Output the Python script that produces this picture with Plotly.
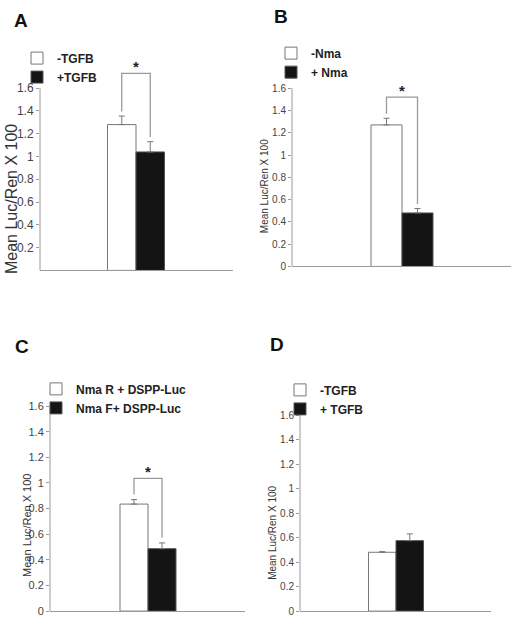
import plotly.graph_objects as go

W, H = 518, 628

# ---------------- data ----------------
panel_letters = ["A", "B", "C", "D"]
legend_white = ["-TGFB", "-Nma", "Nma R + DSPP-Luc", "-TGFB"]
legend_black = ["+TGFB", "+ Nma", "Nma F+ DSPP-Luc", "+ TGFB"]
mean_white = [1.28, 1.27, 0.835, 0.48]
mean_black = [1.04, 0.48, 0.487, 0.575]
err_white = [0.075, 0.06, 0.035, 0.005]
err_black = [0.09, 0.04, 0.045, 0.055]
sig_bracket_top = [1.73, 1.52, 1.035, None]
ytick_vals = [0, 0.2, 0.4, 0.6, 0.8, 1.0, 1.2, 1.4, 1.6]
ytick_text = ["0", "0.2", "0.4", "0.6", "0.8", "1", "1.2", "1.4", "1.6"]
show_zero_label = [False, True, True, True]
y_title = "Mean Luc/Ren X 100"
y_max_tick = 1.6

# ---------------- layout geometry (pixels) ----------------
geom = [
    dict(xl=40, xr=233, xc=136, bw=28.5, y0=273, s=115.0, ytop=1.85,
         title_xy=(11, 201), title_size=16, tick_size=12,
         letter_xy=(21, 21), leg_xy=(17, 44), leg_size=12),
    dict(xl=292, xr=511, xc=402, bw=31, y0=269, s=112.5, ytop=1.7,
         title_xy=(264, 188), title_size=10, tick_size=10,
         letter_xy=(281, 17), leg_xy=(271, 39), leg_size=12),
    dict(xl=50, xr=245, xc=148, bw=28, y0=617, s=129.4, ytop=1.7,
         title_xy=(27, 531), title_size=11, tick_size=11,
         letter_xy=(22, 350), leg_xy=(36, 378), leg_size=12),
    dict(xl=300, xr=491, xc=396, bw=27.5, y0=617, s=123.75, ytop=1.7,
         title_xy=(273, 538), title_size=10, tick_size=10,
         letter_xy=(277, 348), leg_xy=(280, 379), leg_size=12),
]

FONT = "Liberation Sans, Arial, sans-serif"
GREY = "#9a9a9a"
GAP = 0.04

fig = go.Figure()
layout_upd = {}
annotations = []
shapes = []

for i, g in enumerate(geom):
    n = "" if i == 0 else str(i + 1)
    xa, ya = "x" + n, "y" + n
    leg = "legend" + n

    fig.add_trace(go.Bar(
        x=[0], y=[mean_white[i]], width=[1], offset=-1,
        name=legend_white[i], legend=leg, xaxis=xa, yaxis=ya,
        marker=dict(color="white", line=dict(color="#777777", width=1)),
        error_y=dict(type="data", symmetric=False, array=[err_white[i]],
                     arrayminus=[0], color="#777777", thickness=1, width=3),
        hoverinfo="skip"))
    fig.add_trace(go.Bar(
        x=[0], y=[mean_black[i]], width=[1], offset=0,
        name=legend_black[i], legend=leg, xaxis=xa, yaxis=ya,
        marker=dict(color="#141414", line=dict(color="#555555", width=1)),
        error_y=dict(type="data", symmetric=False, array=[err_black[i]],
                     arrayminus=[0], color="#777777", thickness=1, width=3),
        hoverinfo="skip"))

    top = sig_bracket_top[i]
    if top is not None:
        fig.add_trace(go.Scatter(
            x=[-0.5, -0.5, 0.5, 0.5],
            y=[mean_white[i] + err_white[i] + GAP, top, top,
               mean_black[i] + err_black[i] + GAP],
            mode="lines", line=dict(color=GREY, width=1.3),
            showlegend=False, hoverinfo="skip", xaxis=xa, yaxis=ya))
        annotations.append(dict(
            x=0, y=top, xref=xa, yref=ya, text="<b>*</b>", showarrow=False,
            yanchor="middle", yshift=7, font=dict(family=FONT, size=15, color="#222")))

    xr_lo = (g["xl"] - g["xc"]) / g["bw"]
    xr_hi = (g["xr"] - g["xc"]) / g["bw"]
    y_top_px = g["y0"] - g["ytop"] * g["s"]
    layout_upd["xaxis" + n] = dict(
        domain=[g["xl"] / W, g["xr"] / W], range=[xr_lo, xr_hi],
        showline=True, linecolor=GREY, linewidth=1, showgrid=False,
        zeroline=False, showticklabels=False, ticks="", anchor=ya,
        fixedrange=True)
    tv = ytick_vals if show_zero_label[i] else ytick_vals[1:]
    tt = ytick_text if show_zero_label[i] else ytick_text[1:]
    layout_upd["yaxis" + n] = dict(
        domain=[1 - g["y0"] / H, 1 - y_top_px / H], range=[0, g["ytop"]],
        showline=False, showgrid=False, zeroline=False,
        tickvals=tv, ticktext=tt, ticks="outside", ticklen=3,
        tickcolor=GREY, tickwidth=1,
        tickfont=dict(family=FONT, size=g["tick_size"], color="#444444"),
        anchor=xa, fixedrange=True)
    shapes.append(dict(type="line", xref=xa + " domain", yref=ya,
                       x0=0, x1=0, y0=0, y1=y_max_tick,
                       line=dict(color=GREY, width=1)))

    annotations.append(dict(
        x=g["title_xy"][0] / W, y=1 - g["title_xy"][1] / H,
        xref="paper", yref="paper", text=y_title, textangle=-90,
        showarrow=False, xanchor="center", yanchor="middle",
        font=dict(family=FONT, size=g["title_size"], color="#333333")))
    annotations.append(dict(
        x=g["letter_xy"][0] / W, y=1 - g["letter_xy"][1] / H,
        xref="paper", yref="paper", text="<b>%s</b>" % panel_letters[i],
        showarrow=False, xanchor="center", yanchor="middle",
        font=dict(family=FONT, size=19, color="#111111")))

    layout_upd[leg] = dict(
        x=g["leg_xy"][0] / W, y=1 - g["leg_xy"][1] / H,
        xanchor="left", yanchor="top", bgcolor="rgba(0,0,0,0)",
        borderwidth=0, tracegroupgap=0, traceorder="normal",
        font=dict(family=FONT, size=g["leg_size"], color="#222222", weight="bold"))

fig.update_layout(
    width=W, height=H, autosize=False,
    margin=dict(l=0, r=0, t=0, b=0, pad=0),
    paper_bgcolor="white", plot_bgcolor="white",
    barmode="overlay", showlegend=True,
    annotations=annotations, shapes=shapes,
    **layout_upd)

fig.write_html("out.html", config={"displayModeBar": False},
               post_script="document.body.style.margin='0px';document.body.style.overflow='hidden';")
